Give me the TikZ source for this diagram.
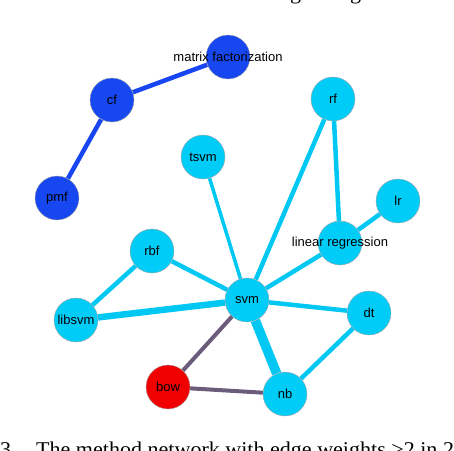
\documentclass[tikz,border=0pt]{standalone}
\usepackage{fontspec}
\setmainfont{Liberation Serif}
\newfontfamily\labfont{Liberation Sans}
\newfontfamily\capfont[FakeStretch=1.05]{Liberation Serif}
\usetikzlibrary{backgrounds}
\definecolor{cyannode}{HTML}{00CCF8}
\definecolor{cyanedge}{HTML}{00C8F2}
\definecolor{bluenode}{HTML}{1647F0}
\definecolor{blueedge}{HTML}{1846F2}
\definecolor{rednode}{HTML}{F00000}
\definecolor{grayedge}{HTML}{6B5C7C}
\tikzset{
  vtx/.style={circle, minimum size=44pt, inner sep=0pt, draw=gray!70, line width=0.4pt},
  cnode/.style={vtx, fill=cyannode},
  bnode/.style={vtx, fill=bluenode},
  rnode/.style={vtx, fill=rednode},
  lab/.style={font=\labfont\fontsize{13}{13}\selectfont, inner sep=0pt},
  cedge/.style={draw=cyanedge, line width=4.5pt},
  bedge/.style={draw=blueedge, line width=4.5pt},
  gedge/.style={draw=grayedge, line width=4pt},
  capt/.style={font=\capfont\fontsize{21}{21}\selectfont, inner sep=0pt, anchor=base west}
}
\begin{document}
\begin{tikzpicture}[x=1pt, y=-1pt]
\useasboundingbox (0,0) rectangle (454,450);
\clip (0,0) rectangle (454,450);
% top fragments
\node[capt] (g1) at (290,-0.5) {g};
\node[capt] (g2) at (350,-0.5) {g};
% nodes
\node[bnode, label={[lab]center:matrix factorization}] (mf) at (228,57) {};
\node[bnode, label={[lab]center:cf}] (cf) at (112,100) {};
\node[bnode, label={[lab]center:pmf}] (pmf) at (57,198) {};
\node[cnode, label={[lab]center:rf}] (rf) at (333,99) {};
\node[cnode, label={[lab]center:tsvm}] (tsvm) at (203,157) {};
\node[cnode, label={[lab]center:lr}] (lr) at (398,201) {};
\node[cnode, label={[lab]center:linear regression}] (lreg) at (340,243) {};
\node[cnode, label={[lab]center:rbf}] (rbf) at (152,251) {};
\node[cnode, label={[lab]center:svm}] (svm) at (247,300) {};
\node[cnode, label={[lab]center:libsvm}] (libsvm) at (76,320) {};
\node[cnode, label={[lab]center:dt}] (dt) at (369,313) {};
\node[rnode, label={[lab]center:bow}] (bow) at (168,387) {};
\node[cnode, label={[lab]center:nb}] (nb) at (285,394) {};
% edges
\begin{scope}[on background layer]
\draw[bedge] (mf) -- (cf);
\draw[bedge] (cf) -- (pmf);
\draw[cedge] (rf) -- (svm);
\draw[cedge] (rf) -- (lreg);
\draw[cedge] (lr) -- (lreg);
\draw[cedge, line width=3.5pt] (tsvm) -- (svm);
\draw[cedge] (rbf) -- (svm);
\draw[cedge] (rbf) -- (libsvm);
\draw[cedge, line width=6.5pt] (libsvm) -- (svm);
\draw[cedge] (lreg) -- (svm);
\draw[cedge] (svm) -- (dt);
\draw[cedge] (dt) -- (nb);
\draw[cedge, line width=9.5pt] (svm) -- (nb);
\draw[gedge] (svm) -- (bow);
\draw[gedge] (bow) -- (nb);
\end{scope}
% caption fragment
\node[capt] (c3) at (0,456) {3};
\node[capt] (ctext) at (36,456) {The method network with edge weights >2 in 2};
\end{tikzpicture}
\end{document}
